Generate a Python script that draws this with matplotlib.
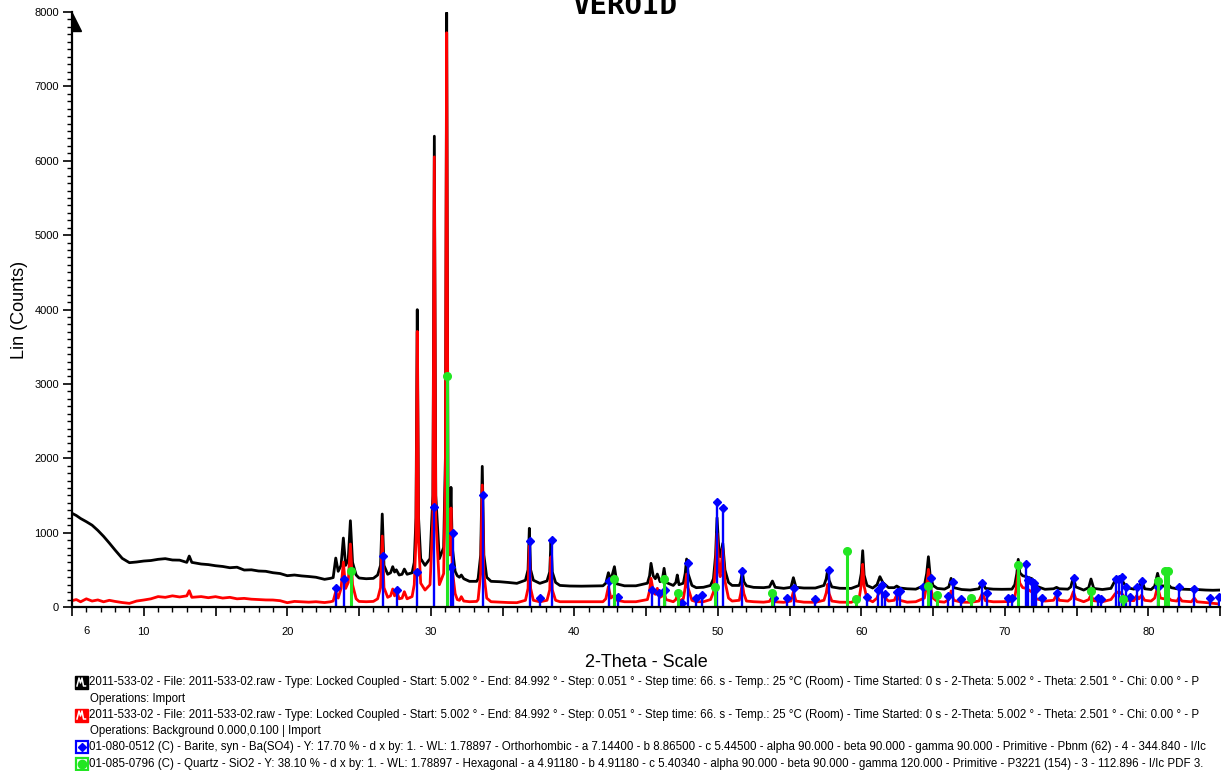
import numpy as np
import matplotlib
matplotlib.use("Agg")
import matplotlib.pyplot as plt
from matplotlib.patches import Rectangle, Polygon
from matplotlib.ticker import MultipleLocator, FuncFormatter

# Diffractogram 2011-533-02: raw scan (black) and background-subtracted scan (red)
two_theta = [
    5.0, 5.3, 5.6, 6.0, 6.4, 6.8, 7.2, 7.6, 8.0, 8.5,
    9.0, 9.5, 10.0, 10.5, 11.0, 11.5, 12.0, 12.5, 13.0, 13.17,
    13.35, 14.0, 14.5, 15.0, 15.5, 16.0, 16.5, 17.0, 17.5, 18.0,
    18.5, 19.0, 19.5, 20.0, 20.5, 21.0, 21.5, 22.0, 22.6, 23.0,
    23.2, 23.38, 23.55, 23.75, 23.91, 24.07, 24.25, 24.40, 24.55, 24.8,
    25.0, 25.5, 26.0, 26.3, 26.5, 26.62, 26.74, 27.0, 27.2, 27.35,
    27.48, 27.6, 27.8, 28.0, 28.16, 28.35,
    28.7, 28.85, 28.97, 29.06, 29.15, 29.3, 29.6, 29.95, 30.15, 30.25,
    30.35, 30.6, 30.9, 31.02, 31.11, 31.2, 31.33, 31.41, 31.5, 31.7,
    31.85, 32.0, 32.13, 32.3, 32.7, 33.2,
    33.3, 33.48, 33.59, 33.7, 33.9, 34.2, 34.8, 35.4, 36.0, 36.6,
    36.78, 36.87, 36.96, 37.15, 37.6, 38.1, 38.29, 38.38, 38.47, 38.7,
    39.0, 39.7, 40.5, 41.3, 42.0, 42.2, 42.38, 42.55, 42.8, 42.98,
    43.5, 44.3, 45.1, 45.25, 45.35, 45.5, 45.65, 45.79, 45.98, 46.15,
    46.26, 46.4, 46.9, 47.08, 47.18, 47.3, 47.6, 47.73, 47.83, 47.93,
    48.2, 48.5, 49.0, 49.5, 49.7, 49.85, 49.95, 50.08, 50.17, 50.35,
    50.5, 50.75, 51.0, 51.5, 51.6, 51.71, 51.82, 52.0,
    52.5, 53.2, 53.6, 53.81, 54.0, 54.6, 55.1, 55.27, 55.45, 56.0,
    56.8, 57.4, 57.56, 57.66, 57.76, 57.95, 58.5, 59.3, 59.85, 60.0,
    60.1, 60.2, 60.4, 60.8, 61.1, 61.3, 61.5, 61.9, 62.3, 62.47, 62.7,
    63.2, 63.8, 64.4, 64.56, 64.68, 64.8, 65.0, 65.3, 65.8, 66.1,
    66.26, 66.45, 67.0, 67.6, 68.2, 68.44, 68.65, 69.2, 69.8, 70.5,
    70.7, 70.84, 70.94, 71.05, 71.25, 71.5, 71.9, 72.2, 72.8,
    73.4, 73.61, 73.8, 74.4, 74.6, 74.78, 74.95, 75.5, 75.85, 76.01,
    76.2, 76.8, 77.4, 77.7, 77.95, 78.2, 78.5, 79.0, 79.19, 79.35,
    79.54, 79.75, 80.2, 80.45, 80.65, 80.85, 81.1, 81.3, 81.6, 82.0,
    82.16, 82.35, 83.0, 83.21, 83.4, 84.0, 84.5, 85.0,
]
raw_counts = [
    1260, 1230, 1190, 1147, 1100, 1030, 950, 860, 766, 654,
    596, 605, 618, 625, 641, 650, 632, 630, 600, 685,
    600, 578, 570, 555, 545, 528, 535, 497, 500, 484,
    480, 461, 450, 421, 430, 418, 410, 400, 372, 385,
    395, 658, 480, 560, 927, 560, 640, 1160, 600, 430,
    390, 380, 385, 430, 560, 1250, 560, 440, 460, 542,
    470, 500, 430, 440, 510, 440,
    460, 600, 1200, 3998, 1200, 650, 560, 650, 1500, 6330,
    1500, 650, 800, 2000, 7990, 1600, 1000, 1609, 800, 480,
    420, 400, 430, 380, 345, 345,
    380, 700, 1891, 700, 400, 345, 340, 330, 318, 360,
    500, 1058, 500, 360, 318, 350, 470, 900, 470, 330,
    290, 282, 280, 282, 285, 320, 461, 360, 542, 310,
    285, 285, 320, 420, 587, 420, 380, 443, 340, 380,
    520, 330, 290, 330, 430, 300, 320, 450, 645, 450,
    290, 260, 265, 290, 380, 700, 1200, 760, 676, 856,
    500, 330, 290, 290, 340, 475, 340, 285,
    264, 260, 270, 349, 265, 251, 265, 394, 265, 255,
    255, 290, 380, 497, 360, 270, 252, 250, 290, 450,
    757, 430, 290, 255, 300, 408, 330, 260, 260, 282, 255,
    245, 240, 290, 450, 676, 430, 290, 250, 240, 270,
    385, 260, 235, 228, 245, 341, 250, 240, 238, 240,
    300, 450, 641, 460, 420, 408, 380, 280, 238,
    245, 264, 245, 240, 270, 399, 270, 228, 260, 376,
    250, 235, 250, 360, 399, 350, 260, 240, 269, 250,
    363, 245, 235, 280, 453, 290, 280, 318, 260, 245,
    280, 240, 235, 264, 235, 228, 225, 228,
]
net_counts = [
    85, 100, 70, 110, 80, 95, 70, 90, 75, 60,
    49, 80, 94, 110, 140, 130, 150, 135, 150, 219,
    130, 140, 125, 139, 120, 130, 110, 116, 105, 100,
    95, 94, 85, 58, 75, 70, 65, 71, 60, 70,
    80, 206, 120, 250, 605, 250, 330, 847, 300, 110,
    75, 71, 75, 110, 260, 954, 260, 130, 150, 242,
    150, 230, 110, 120, 206, 110,
    140, 300, 900, 3705, 900, 320, 228, 300, 1200, 6052,
    1200, 300, 450, 1700, 7721, 1300, 700, 1331, 500, 180,
    100, 90, 139, 80, 71, 75,
    100, 450, 1640, 450, 120, 71, 65, 60, 58, 90,
    250, 820, 250, 90, 70, 90, 230, 676, 230, 90,
    71, 71, 71, 71, 71, 110, 273, 120, 161, 90,
    71, 71, 100, 220, 385, 220, 170, 251, 130, 150,
    184, 100, 71, 100, 161, 80, 110, 260, 443, 260,
    90, 71, 71, 100, 200, 550, 990, 500, 408, 789,
    350, 120, 80, 90, 180, 318, 180, 80,
    71, 65, 75, 139, 70, 63, 80, 206, 80, 65,
    63, 90, 190, 305, 180, 80, 65, 63, 110, 300,
    574, 280, 110, 70, 120, 238, 150, 80, 90, 161, 90,
    65, 71, 120, 300, 506, 290, 120, 75, 65, 100,
    215, 90, 65, 63, 80, 184, 85, 70, 71, 75,
    130, 300, 497, 320, 260, 251, 200, 110, 80,
    90, 161, 90, 80, 110, 206, 110, 71, 100, 161,
    85, 71, 100, 180, 206, 170, 90, 85, 152, 110,
    160, 90, 80, 120, 273, 120, 110, 140, 90, 80,
    130, 80, 70, 120, 70, 60, 50, 40,
]
assert len(two_theta) == len(raw_counts) == len(net_counts)

# Reference patterns: 01-080-0512 Barite (blue) and 01-085-0796 Quartz (green)
barite_tt = [23.38, 23.95, 26.65, 27.63, 29.06, 30.25, 31.41, 31.55, 33.62, 36.92,
             37.61, 38.45, 42.4, 43.07, 45.4, 45.9, 46.35, 47.5, 47.9, 48.49,
             48.88, 49.95, 50.4, 51.71, 53.9, 54.8, 55.3, 56.78, 57.75, 60.38,
             61.2, 61.43, 61.66, 62.47, 62.7, 64.33, 64.86, 66.07, 66.37, 66.93,
             68.44, 68.74, 70.25, 70.48, 71.45, 71.64, 71.87, 72.03, 72.17, 72.57,
             73.61, 74.84, 76.52, 76.7, 77.75, 77.98, 78.19, 78.45, 78.72, 79.19,
             79.54, 80.7, 82.16, 83.21, 84.3, 84.9]
barite_cts = [251, 380, 690, 228, 475, 1344, 540, 990, 1505, 887,
              116, 900, 349, 139, 230, 188, 228, 60, 587, 116,
              161, 1415, 1326, 484, 116, 125, 260, 103, 497, 139,
              228, 296, 175, 197, 215, 264, 385, 148, 331, 108,
              318, 193, 116, 116, 574, 363, 341, 318, 238, 116,
              193, 394, 116, 108, 376, 376, 399, 273, 139, 264,
              349, 273, 273, 242, 116, 130]
quartz_tt = [24.42, 31.11, 42.8, 46.26, 47.2, 49.8, 53.8, 59.0, 59.6, 64.68,
             65.3, 67.63, 70.94, 76.01, 78.26, 80.65, 81.15, 81.4]
quartz_cts = [488, 3110, 381, 376, 193, 264, 193, 753, 108, 282,
              161, 116, 560, 215, 108, 349, 488, 488]

x_labels = [10, 20, 30, 40, 50, 60, 70, 80]

scan_info = ("2011-533-02 - File: 2011-533-02.raw - Type: Locked Coupled - Start: 5.002 ° - "
             "End: 84.992 ° - Step: 0.051 ° - Step time: 66. s - Temp.: 25 °C (Room) - "
             "Time Started: 0 s - 2-Theta: 5.002 ° - Theta: 2.501 ° - Chi: 0.00 ° - P")
legend_rows = [
    ("raw", scan_info),
    (None, "Operations: Import"),
    ("net", scan_info),
    (None, "Operations: Background 0.000,0.100 | Import"),
    ("barite", "01-080-0512 (C) - Barite, syn - Ba(SO4) - Y: 17.70 % - d x by: 1. - WL: 1.78897 - "
               "Orthorhombic - a 7.14400 - b 8.86500 - c 5.44500 - alpha 90.000 - beta 90.000 - "
               "gamma 90.000 - Primitive - Pbnm (62) - 4 - 344.840 - I/Ic"),
    ("quartz", "01-085-0796 (C) - Quartz - SiO2 - Y: 38.10 % - d x by: 1. - WL: 1.78897 - "
               "Hexagonal - a 4.91180 - b 4.91180 - c 5.40340 - alpha 90.000 - beta 90.000 - "
               "gamma 120.000 - Primitive - P3221 (154) - 3 - 112.896 - I/Ic PDF 3."),
]
row_y = [682, 699, 715, 731, 747, 764]

BLUE = "#0000ff"
GREEN = "#22e622"
RED = "#ff0000"

plt.rcParams['font.family'] = ['Liberation Sans', 'DejaVu Sans']

W, H = 1223, 771
fig = plt.figure(figsize=(W / 100, H / 100), dpi=100)
ax = fig.add_axes([72 / W, 1 - 607 / H, (1220 - 72) / W, (607 - 12) / H])

ax.plot(two_theta, raw_counts, color="black", lw=2.0)
ax.plot(two_theta, net_counts, color=RED, lw=2.0)
ax.vlines(barite_tt, 0, barite_cts, color=BLUE, lw=1.7)
ax.plot(barite_tt, barite_cts, "D", color=BLUE, ms=4.2, ls="none")
ax.vlines(quartz_tt, 0, quartz_cts, color=GREEN, lw=2.2)
ax.plot(quartz_tt, quartz_cts, "o", color=GREEN, ms=5.5, ls="none")

ax.set_xlim(5, 85)
ax.set_ylim(0, 8000)
for s in ["top", "right"]:
    ax.spines[s].set_visible(False)
for s in ["left", "bottom"]:
    ax.spines[s].set_linewidth(1.6)

ax.yaxis.set_major_locator(MultipleLocator(1000))
ax.yaxis.set_minor_locator(MultipleLocator(100))
ax.xaxis.set_major_locator(MultipleLocator(5))
ax.xaxis.set_minor_locator(MultipleLocator(1))
ax.xaxis.set_major_formatter(FuncFormatter(lambda v, p: f"{v:.0f}" if round(v) in x_labels else ""))
ax.tick_params(which="major", direction="out", length=6.5, width=1.2, labelsize=8, color="black")
ax.tick_params(which="minor", direction="out", length=3.8, width=1.0)
ax.tick_params(axis="x", which="major", pad=8)
ax.tick_params(axis="y", which="major", pad=3)
ax.text(6, -24 / 595, "6", transform=ax.get_xaxis_transform(), ha="center", va="center", fontsize=8)

ax.set_xlabel("2-Theta - Scale", fontsize=13, labelpad=12)
ax.set_ylabel("Lin (Counts)", fontsize=13, labelpad=4.5)

# overlay in pixel coordinates for the title, axis arrow and legend
ov = fig.add_axes([0, 0, 1, 1])
ov.set_xlim(0, W)
ov.set_ylim(H, 0)
ov.axis("off")

ov.add_patch(Polygon([(72, 13), (72, 31), (81, 31)], closed=True, fc="black", ec="black", lw=1))
ov.text(625, 14, "VEROID", ha="center", va="baseline", fontsize=21,
        family="DejaVu Sans Mono", weight="bold")

for (kind, txt), y in zip(legend_rows, row_y):
    if kind in ("raw", "net"):
        c = "black" if kind == "raw" else RED
        ov.add_patch(Rectangle((75, y - 6.5), 13, 13, fc=c, ec=c, lw=1))
        ov.plot([77, 79, 80.5, 82, 83.5, 85.5], [y + 4, y - 4, y + 1, y - 4, y + 4, y + 4],
                color="white", lw=1.1)
    elif kind == "barite":
        ov.add_patch(Rectangle((75.5, y - 6), 12, 12, fc="white", ec=BLUE, lw=1.6))
        ov.plot([81.5], [y], "D", color=BLUE, ms=4)
    elif kind == "quartz":
        ov.add_patch(Rectangle((75.5, y - 6), 12, 12, fc="white", ec=GREEN, lw=1.6))
        ov.plot([81.5], [y], "o", color=GREEN, ms=6)
    x0 = 89 if kind else 90
    ov.text(x0, y, txt, ha="left", va="center", fontsize=8.3)

fig.savefig("out.png", dpi=100)
